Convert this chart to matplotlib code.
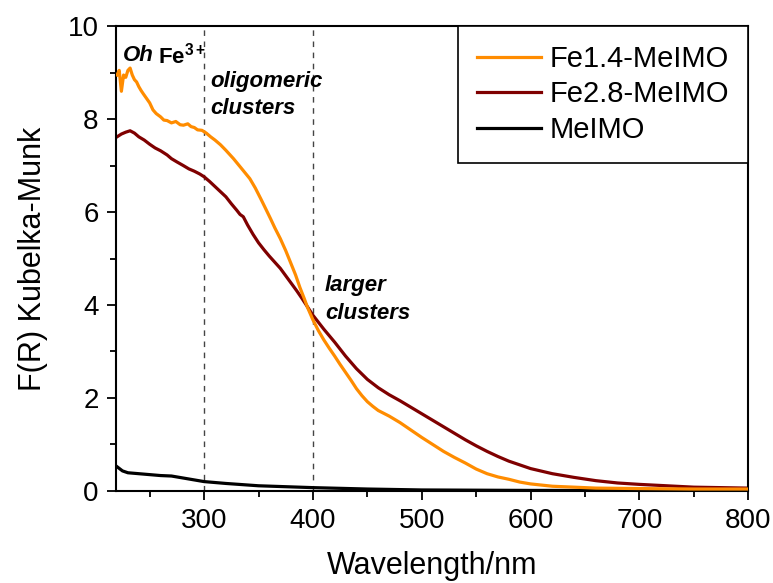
import numpy as np
import matplotlib
matplotlib.use("Agg")
import matplotlib.pyplot as plt
from matplotlib.ticker import MultipleLocator

plt.rcParams['font.family'] = ['Liberation Sans', 'DejaVu Sans']
plt.rcParams['mathtext.fontset'] = 'custom'
plt.rcParams['mathtext.rm'] = 'Liberation Sans'
plt.rcParams['mathtext.bf'] = 'Liberation Sans:bold'
plt.rcParams['mathtext.it'] = 'Liberation Sans:italic'

# Fe1.4-MeIMO (orange)
wl_fe14 = [220, 222, 224, 226, 228, 230, 232, 234, 236, 238, 240, 242, 244, 247, 250,
           253, 256, 260, 263, 266, 270, 274, 278, 281, 285, 288, 291, 294, 298, 302,
           306, 310, 315, 320, 327, 334, 342, 347, 352, 356, 361, 365, 370, 375, 379,
           384, 388, 392, 395, 400, 405, 410, 415, 420, 425, 430, 435, 440, 445, 450,
           455, 460, 465, 470, 475, 480, 490, 500, 510, 520, 530, 540, 550, 560, 570,
           580, 590, 600, 620, 640, 660, 700, 750, 800]
kb_fe14 = [8.95, 9.05, 8.6, 8.95, 8.9, 9.05, 9.1, 8.95, 8.85, 8.8, 8.7, 8.62, 8.55, 8.45, 8.35,
           8.2, 8.12, 8.05, 7.98, 7.97, 7.92, 7.95, 7.88, 7.87, 7.9, 7.84, 7.82, 7.77, 7.76, 7.7,
           7.62, 7.55, 7.45, 7.33, 7.15, 6.95, 6.72, 6.52, 6.29, 6.1, 5.86, 5.66, 5.43, 5.17, 4.94,
           4.65, 4.38, 4.14, 3.95, 3.68, 3.45, 3.25, 3.07, 2.9, 2.72, 2.55, 2.38, 2.2, 2.05, 1.92,
           1.82, 1.73, 1.67, 1.61, 1.54, 1.47, 1.31, 1.15, 1.0, 0.85, 0.72, 0.6, 0.47, 0.37, 0.3,
           0.25, 0.19, 0.15, 0.1, 0.08, 0.06, 0.05, 0.04, 0.04]

# Fe2.8-MeIMO (dark red)
wl_fe28 = [220, 224, 228, 232, 236, 240, 245, 250, 255, 260, 266, 270, 275, 281, 286,
           291, 296, 300, 305, 310, 315, 320, 325, 330, 333, 336, 340, 345, 350, 355,
           360, 365, 370, 375, 380, 385, 390, 395, 400, 410, 420, 430, 440, 450, 460,
           470, 480, 490, 500, 510, 520, 530, 540, 550, 560, 570, 580, 590, 600, 620,
           640, 660, 680, 700, 750, 800]
kb_fe28 = [7.62, 7.68, 7.72, 7.75, 7.7, 7.62, 7.55, 7.46, 7.38, 7.32, 7.23, 7.15, 7.08, 7.0, 6.93,
           6.88, 6.82, 6.76, 6.66, 6.55, 6.44, 6.33, 6.18, 6.04, 5.95, 5.9, 5.72, 5.52, 5.34, 5.19,
           5.05, 4.92, 4.79, 4.63, 4.47, 4.31, 4.14, 3.96, 3.78, 3.48, 3.2, 2.9, 2.63, 2.4, 2.22,
           2.07, 1.94, 1.8, 1.66, 1.52, 1.38, 1.24, 1.1, 0.97, 0.85, 0.74, 0.64, 0.56, 0.48, 0.37,
           0.29, 0.22, 0.17, 0.14, 0.08, 0.06]

# MeIMO (black)
wl_meimo = [220, 225, 230, 240, 250, 260, 270, 280, 290, 300, 320, 350, 400, 450, 500, 600, 700, 800]
kb_meimo = [0.52, 0.43, 0.39, 0.37, 0.35, 0.33, 0.32, 0.28, 0.24, 0.2, 0.16, 0.11, 0.07, 0.04, 0.02, 0.01, 0.01, 0.01]

region_lines = [300, 400]

fig = plt.figure(figsize=(7.73, 5.83), dpi=100)
ax = fig.add_axes([0.150, 0.158, 0.818, 0.797])

for x in region_lines:
    ax.axvline(x, color='#444444', lw=1.0, ls=(0, (4, 4)), zorder=1)

ax.plot(wl_fe14, kb_fe14, color='#FF8C00', lw=2.3, label='Fe1.4-MeIMO', zorder=3)
ax.plot(wl_fe28, kb_fe28, color='#7F0000', lw=2.3, label='Fe2.8-MeIMO', zorder=2)
ax.plot(wl_meimo, kb_meimo, color='black', lw=2.3, label='MeIMO', zorder=2)

ax.set_xlim(219, 800)
ax.set_ylim(0, 10)
ax.xaxis.set_major_locator(MultipleLocator(100))
ax.xaxis.set_minor_locator(MultipleLocator(50))
ax.yaxis.set_major_locator(MultipleLocator(2))
ax.yaxis.set_minor_locator(MultipleLocator(1))
ax.tick_params(which='major', direction='out', length=6.5, width=1.3, labelsize=20, pad=6)
ax.tick_params(which='minor', direction='out', length=4, width=1.3)
for s in ax.spines.values():
    s.set_linewidth(1.5)

ax.set_xlabel('Wavelength/nm', fontsize=22, labelpad=12)
ax.set_ylabel('F(R) Kubelka-Munk', fontsize=22, labelpad=14)

# annotations
ax.text(225, 9.36, 'Oh', fontsize=16, fontweight='bold', fontstyle='italic', va='center')
ax.text(258, 9.36, r'Fe$^{\mathbf{3+}}$', fontsize=16, fontweight='bold', va='center')
ax.text(306, 8.52, 'oligomeric\nclusters', fontsize=16, fontweight='bold', fontstyle='italic',
        va='center', linespacing=1.4)
ax.text(411, 4.12, 'larger\nclusters', fontsize=16, fontweight='bold', fontstyle='italic',
        va='center', linespacing=1.4)

leg = ax.legend(loc='upper right', fontsize=21, frameon=True, fancybox=False,
                edgecolor='black', framealpha=1, borderaxespad=0, handlelength=2.2,
                handletextpad=0.3, labelspacing=0.25, borderpad=0.65)
leg.get_frame().set_linewidth(1.2)

fig.savefig('out.png', dpi=100)
